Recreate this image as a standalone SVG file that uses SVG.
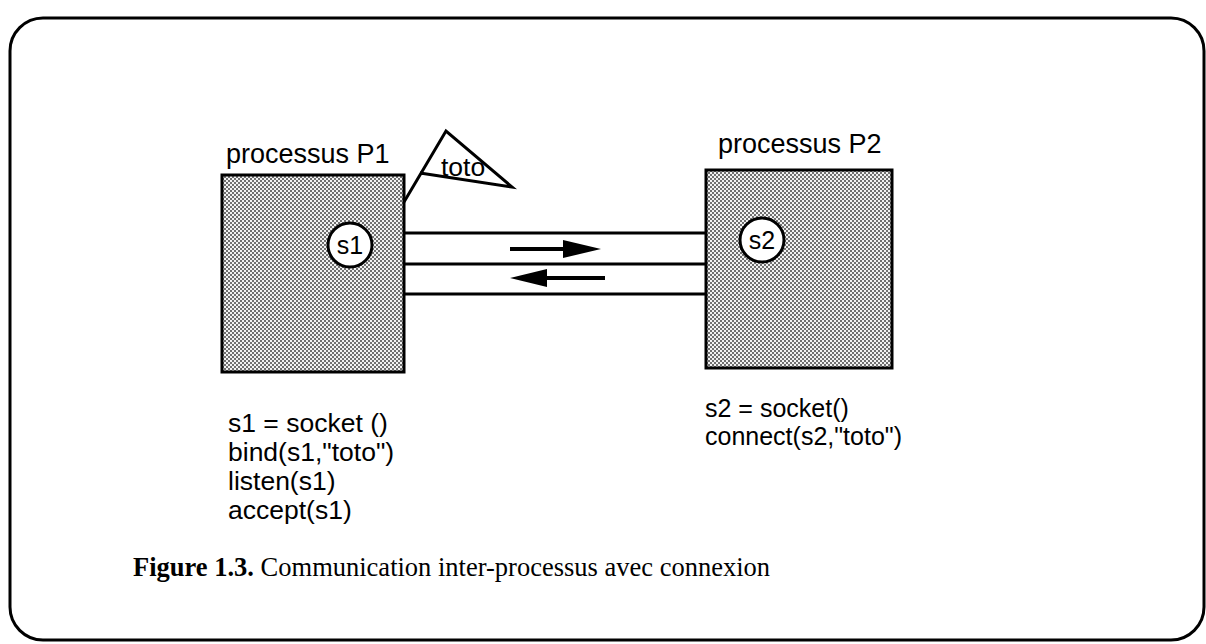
<svg xmlns="http://www.w3.org/2000/svg" width="1206" height="644" viewBox="0 0 1206 644">
<style>
.lbl{font-family:"Liberation Sans",Arial,sans-serif;font-size:25px;fill:#000}
.big{font-size:26.5px}
.ttl{font-family:"Liberation Sans",Arial,sans-serif;font-size:27px;fill:#000}
.cap{font-family:"Liberation Serif","Times New Roman",serif;font-size:26.5px;fill:#000}
.box{fill:url(#stip);stroke:#000;stroke-width:3}
.sock{fill:#fff;stroke:#000;stroke-width:3}
.ln{stroke:#000;stroke-width:3;fill:none}
.shaft{stroke:#000;stroke-width:4;fill:none}
</style>
<defs>
<pattern id="stip" width="4" height="4" patternUnits="userSpaceOnUse">
<rect width="4" height="4" fill="#f2f2f2"/>
<rect x="0" y="0" width="2" height="2" fill="#707070"/>
<rect x="2" y="2" width="2" height="2" fill="#707070"/>
</pattern>
</defs>
<rect x="10" y="18" width="1194" height="622" rx="33" ry="33" fill="#fff" stroke="#000" stroke-width="3"/>
<g id="connectors">
<line class="ln" x1="404" y1="233" x2="706" y2="233"/>
<line class="ln" x1="404" y1="264" x2="706" y2="264"/>
<line class="ln" x1="404" y1="294" x2="706" y2="294"/>
<line class="shaft" x1="510" y1="249" x2="565" y2="249"/>
<polygon points="563,240 601,249 563,258" fill="#000"/>
<line class="shaft" x1="545" y1="278" x2="605" y2="278"/>
<polygon points="547,269 510,278 547,287" fill="#000"/>
</g>
<g id="p1">
<text class="ttl" x="226" y="163">processus P1</text>
<rect class="box" x="222" y="175" width="182" height="197"/>
<circle class="sock" cx="350" cy="245" r="22"/>
<text class="lbl" x="350" y="254" text-anchor="middle">s1</text>
<text class="lbl big" x="228" y="432">s1 = socket ()</text>
<text class="lbl big" x="228" y="461">bind(s1,"toto")</text>
<text class="lbl big" x="228" y="490">listen(s1)</text>
<text class="lbl big" x="228" y="519">accept(s1)</text>
</g>
<g id="toto">
<polyline class="ln" points="404,202 446,131 512,187 420,173"/>
<text class="lbl big" x="441" y="176">toto</text>
</g>
<g id="p2">
<text class="ttl" x="718" y="153">processus P2</text>
<rect class="box" x="706" y="170" width="186" height="198"/>
<circle class="sock" cx="762" cy="240" r="22"/>
<text class="lbl" x="762" y="249" text-anchor="middle">s2</text>
<text class="lbl" x="705" y="417">s2 = socket()</text>
<text class="lbl" x="705" y="445">connect(s2,"toto")</text>
</g>
<g id="caption">
<text class="cap" x="133" y="576"><tspan font-weight="bold">Figure 1.3.</tspan> Communication inter-processus avec connexion</text>
</g>
</svg>
